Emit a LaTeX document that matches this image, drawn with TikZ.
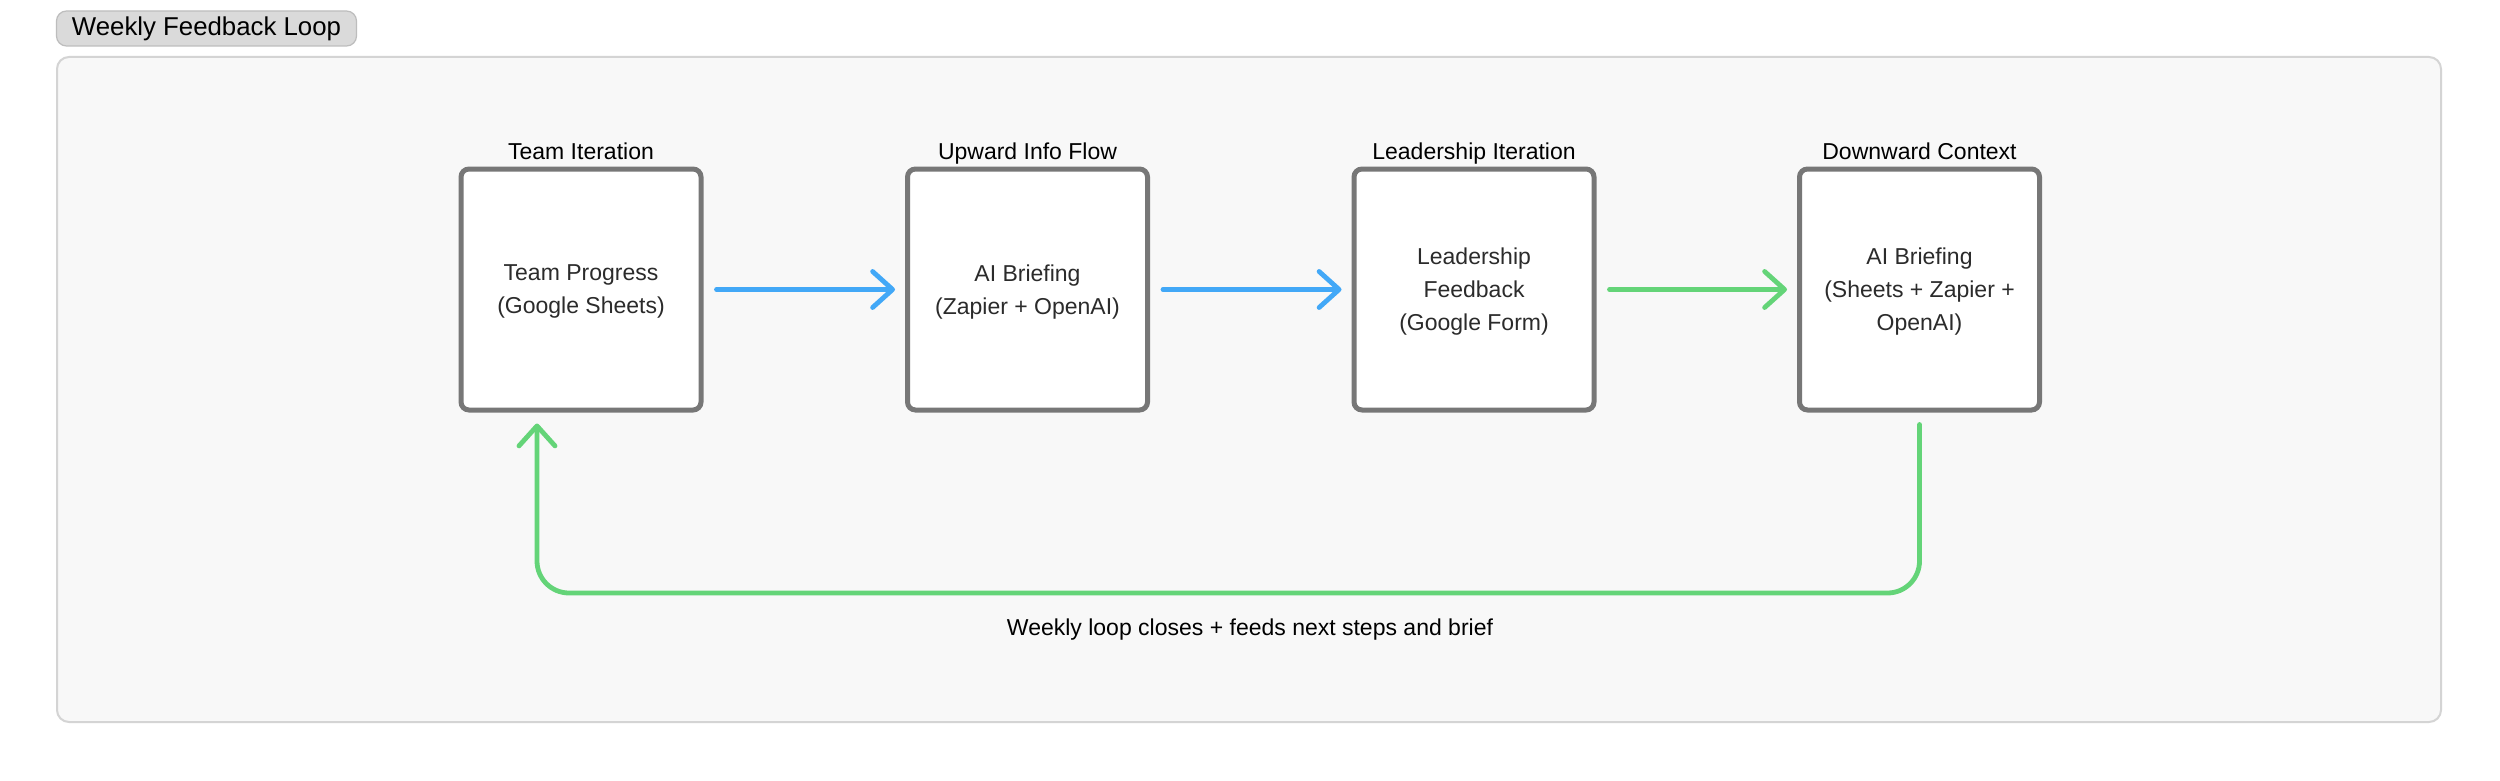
\documentclass[tikz,border=0pt]{standalone}
\usepackage{fontspec}
\setmainfont{Liberation Sans}
\usetikzlibrary{arrows.meta,calc}
\definecolor{framefill}{HTML}{F8F8F8}
\definecolor{framedraw}{HTML}{D4D4D4}
\definecolor{tagfill}{HTML}{DADADA}
\definecolor{tagdraw}{HTML}{BDBDBD}
\definecolor{boxgray}{HTML}{777777}
\definecolor{textdark}{HTML}{2B2B2B}
\definecolor{flowblue}{HTML}{42A8F7}
\definecolor{flowgreen}{HTML}{64D478}
\tikzset{
  tag/.style={draw=tagdraw, fill=tagfill, line width=0.6pt, rounded corners=5pt,
    minimum width=150pt, minimum height=17.5pt, inner sep=0pt,
    font=\fontsize{12.9}{15}\selectfont, text=black},
  panel/.style={draw=framedraw, fill=framefill, line width=1pt, rounded corners=6pt},
  stage/.style={draw=boxgray, fill=white, line width=2.5pt, rounded corners=4pt,
    minimum width=120pt, minimum height=120.5pt, inner sep=2pt, align=center,
    text depth=0pt,
    text=textdark, font=\fontsize{11.5}{16.5}\selectfont},
  hdr/.style={anchor=base, font=\fontsize{11.5}{14}\selectfont, text=black, inner sep=0pt},
  flow/.style={line width=2.4pt, line cap=round,
    -{Straight Barb[length=10pt,width=18pt,round]},
    shorten <=6.5pt, shorten >=5pt},
  loopline/.style={flow, draw=flowgreen, rounded corners=16pt, shorten <=6pt, shorten >=5.5pt}
}
\begin{document}
\begin{tikzpicture}[x=0.5pt,y=-0.5pt]
\useasboundingbox (0,0) rectangle (2500,781);
\fill[white] (0,0) rectangle (2500,781);
\draw[panel] (57,57) rectangle (2441,722);
\node[tag] (title) at (206.5,28.5) {Weekly Feedback Loop};

\node[stage] (b1) at (581,289.5) {Team Progress\\(Google Sheets)};
\node[stage] (b2) at (1027.5,289.5) {AI Briefing\\(Zapier + OpenAI)};
\node[stage] (b3) at (1474,289.5) {Leadership\\Feedback\\(Google Form)};
\node[stage] (b4) at (1919.5,289.5) {AI Briefing\\(Sheets + Zapier +\\OpenAI)};

\node[hdr] (h1) at (581,159) {Team Iteration};
\node[hdr] (h2) at (1027.5,159) {Upward Info Flow};
\node[hdr] (h3) at (1474,159) {Leadership Iteration};
\node[hdr] (h4) at (1919.5,159) {Downward Context};

\draw[flow, draw=flowblue] (b1) -- (b2);
\draw[flow, draw=flowblue] (b2) -- (b3);
\draw[flow, draw=flowgreen] (b3) -- (b4);

\coordinate (b1in) at ($(b1.south)+(-44,0)$);
\draw[loopline] (b4.south) -- ++(0,180.5) -| (b1in);

\node[hdr] (cap) at (1250,635) {Weekly loop closes + feeds next steps and brief};
\end{tikzpicture}
\end{document}
